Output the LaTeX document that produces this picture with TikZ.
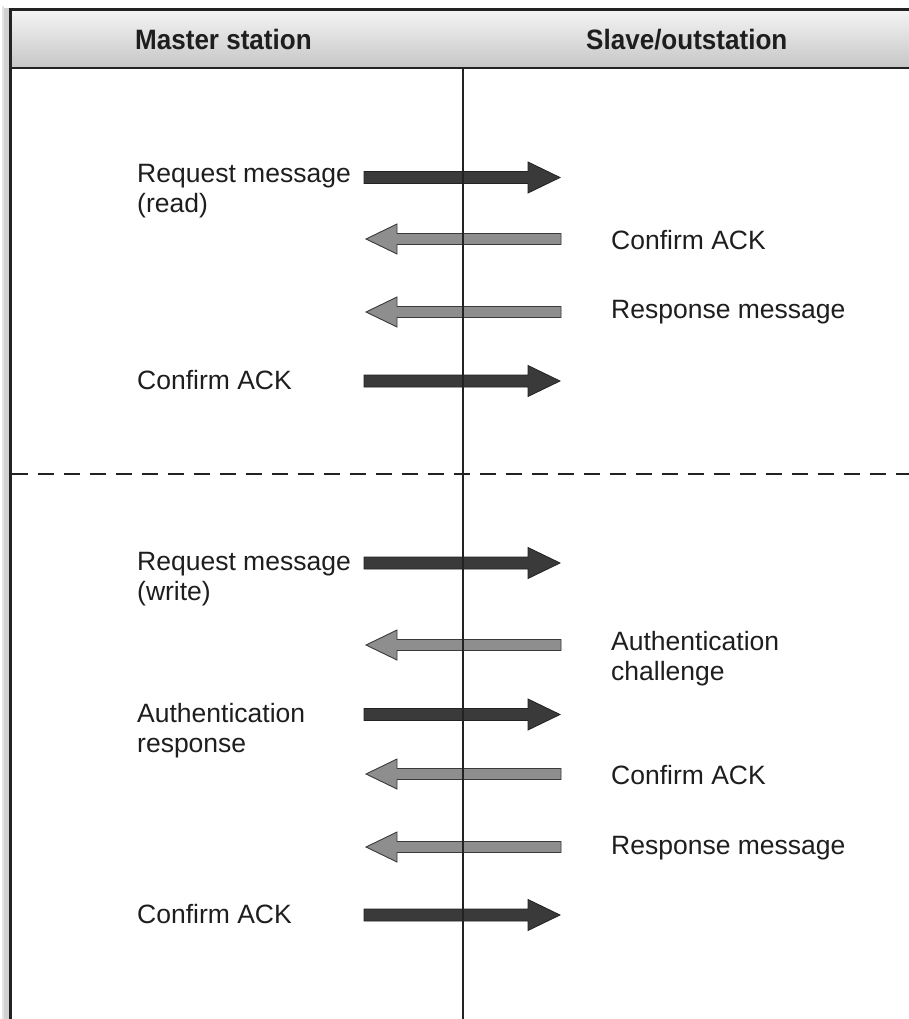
\documentclass[tikz,border=0pt]{standalone}
\usepackage{fontspec}
\setmainfont{Liberation Sans}
\newfontfamily\headfont[FakeStretch=0.93]{Liberation Sans}
\usetikzlibrary{calc}
\definecolor{framegray}{HTML}{222222}
\definecolor{darkfill}{HTML}{3A3A3A}
\definecolor{lightfill}{HTML}{8E8E8E}
\definecolor{headtop}{HTML}{F4F4F4}
\definecolor{headbot}{HTML}{C6C6C6}
\definecolor{textcol}{HTML}{1E1E1E}

% message from master to outstation (dark arrow pointing right)
\newcommand{\msgtoslave}[2]{%
  \coordinate (#1-tail) at (364,#2);
  \coordinate (#1-tip) at (560,#2);
  \filldraw[darkarrow] ($(#1-tail)+(0,-6)$) -- ($(#1-tip)+(-32,-6)$)
    -- ($(#1-tip)+(-32,-15.5)$) -- (#1-tip) -- ($(#1-tip)+(-32,15.5)$)
    -- ($(#1-tip)+(-32,6)$) -- ($(#1-tail)+(0,6)$) -- cycle;
}
% message from outstation to master (light arrow pointing left)
\newcommand{\msgtomaster}[2]{%
  \coordinate (#1-tail) at (561,#2);
  \coordinate (#1-tip) at (366,#2);
  \filldraw[lightarrow] ($(#1-tail)+(0,-5.5)$) -- ($(#1-tip)+(31,-5.5)$)
    -- ($(#1-tip)+(31,-15)$) -- (#1-tip) -- ($(#1-tip)+(31,15)$)
    -- ($(#1-tip)+(31,5.5)$) -- ($(#1-tail)+(0,5.5)$) -- cycle;
}

\begin{document}
\begin{tikzpicture}[x=1pt,y=-1pt,
  msglabel/.style={anchor=base west, inner sep=0pt, text=textcol,
    font=\fontsize{26.5}{30}\selectfont, align=left},
  headlabel/.style={anchor=base west, inner sep=0pt, text=textcol,
    font=\headfont\bfseries\fontsize{28}{32}\selectfont},
  darkarrow/.style={fill=darkfill, draw=framegray, line width=0.8pt, line join=miter},
  lightarrow/.style={fill=lightfill, draw=darkfill, line width=0.9pt, line join=miter},
  framerule/.style={draw=framegray, line width=3pt},
  sepline/.style={draw=framegray, line width=2pt, dash pattern=on 16pt off 10pt},
  lifeline/.style={draw=framegray, line width=1.5pt}]

\useasboundingbox (0,0) rectangle (909,1019);
\fill[white] (0,0) rectangle (909,1019);

% soft shadow along the frame
\fill[black!18] (4,8) rectangle (9,1019);
\fill[black!10] (2,6) rectangle (4,1019);

% header band
\shade[top color=headtop, bottom color=headbot] (10,10) rectangle (915,68);
\draw[framerule] (8.5,10) -- (915,10);
\draw[draw=framegray, line width=2pt] (10,68) -- (915,68);
\draw[framerule] (10,8.5) -- (10,1019);

\node[headlabel] (master) at (135,50) {Master station};
\node[headlabel] (slave) at (586,50) {Slave/outstation};

% read transaction
\msgtoslave{m1}{177.5}
\msgtomaster{m2}{239}
\msgtomaster{m3}{312}
\msgtoslave{m4}{381}

% separator between the two transactions
\coordinate (sepL) at (11.5,474);
\coordinate (sepR) at (909,474);
\draw[sepline] (sepL) -- (sepR);

% write transaction
\msgtoslave{m5}{563}
\msgtomaster{m6}{645}
\msgtoslave{m7}{714.5}
\msgtomaster{m8}{774}
\msgtomaster{m9}{847}
\msgtoslave{m10}{915}

% time line separating both stations
\coordinate (axtop) at (463,69);
\coordinate (axbot) at (463,1019);
\draw[lifeline] (axtop) -- (axbot);

% labels (two-line labels are placed by the baseline of their last line)
\node[msglabel] (l1) at (137,212) {Request message\\(read)};
\node[msglabel] (l2) at (611,249) {Confirm ACK};
\node[msglabel] (l3) at (611,318) {Response message};
\node[msglabel] (l4) at (137,389) {Confirm ACK};
\node[msglabel] (l5) at (137,600) {Request message\\(write)};
\node[msglabel] (l6) at (611,680) {Authentication\\challenge};
\node[msglabel] (l7) at (137,752) {Authentication\\response};
\node[msglabel] (l8) at (611,784) {Confirm ACK};
\node[msglabel] (l9) at (611,854) {Response message};
\node[msglabel] (l10) at (137,923) {Confirm ACK};
\end{tikzpicture}
\end{document}
